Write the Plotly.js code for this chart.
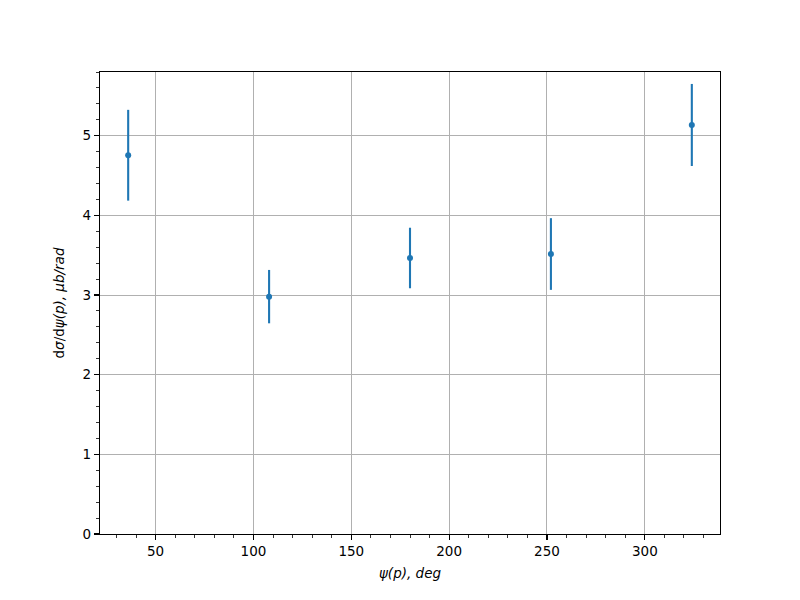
<!DOCTYPE html>
<html>
<head>
<meta charset="utf-8">
<script src="https://cdn.plot.ly/plotly-3.0.1.min.js"></script>
<style>html,body{margin:0;padding:0;background:#fff;}#chart{width:800px;height:600px;}</style>
</head>
<body>
<div id="chart"></div>
<script>
const psiDeg = [36, 108, 180, 252, 324];
const dsigma = [4.755, 2.98, 3.465, 3.515, 5.135];
const dsigmaErr = [0.57, 0.335, 0.38, 0.45, 0.515];
const xTickVals = [50, 100, 150, 200, 250, 300];
const yTickVals = [0, 1, 2, 3, 4, 5];

const font = {family: 'DejaVu Sans, sans-serif', size: 13.5, color: '#000'};

const trace = {
  x: psiDeg,
  y: dsigma,
  type: 'scatter',
  mode: 'markers',
  marker: {color: '#1f77b4', size: 6},
  error_y: {type: 'data', array: dsigmaErr, visible: true, color: '#1f77b4', thickness: 2.1, width: 0},
  showlegend: false
};

const layout = {
  width: 800, height: 600,
  paper_bgcolor: '#fff', plot_bgcolor: '#fff',
  margin: {l: 100, r: 80, t: 72, b: 66},
  font: font,
  xaxis: {
    range: [21.6, 338.4],
    tickvals: xTickVals,
    ticks: 'outside', ticklen: 5, tickwidth: 1.1, tickcolor: '#000',
    showline: true, linecolor: '#000', linewidth: 1.1, mirror: true,
    showgrid: true, gridcolor: '#b0b0b0', gridwidth: 1,
    zeroline: false,
    minor: {dtick: 10, tick0: 0, ticks: 'outside', ticklen: 3, tickwidth: 0.8, tickcolor: '#000', showgrid: false},
    title: {text: '<i>ψ(p), deg</i>', font: font, standoff: 10},
    tickfont: font
  },
  yaxis: {
    range: [0, 5.80],
    tickvals: yTickVals,
    ticks: 'outside', ticklen: 5, tickwidth: 1.1, tickcolor: '#000',
    showline: true, linecolor: '#000', linewidth: 1.1, mirror: true,
    showgrid: true, gridcolor: '#b0b0b0', gridwidth: 1,
    zeroline: false,
    minor: {dtick: 0.2, tick0: 0, ticks: 'outside', ticklen: 3, tickwidth: 0.8, tickcolor: '#000', showgrid: false},
    title: {text: 'd<i>σ</i>/d<i>ψ(p), μb/rad</i>', font: font, standoff: 14},
    tickfont: font
  }
};

Plotly.newPlot('chart', [trace], layout, {displayModeBar: false, staticPlot: true});
</script>
</body>
</html>
